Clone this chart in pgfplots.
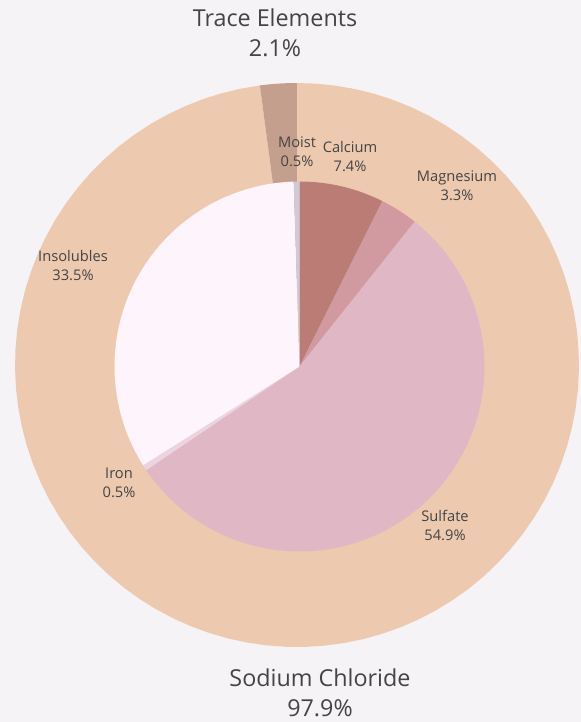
\documentclass[border=0pt]{standalone}
\usepackage{pgfplots}
\pgfplotsset{compat=1.18}
\usepackage{fontspec}
\setmainfont{Open Sans}
\definecolor{bgc}{HTML}{F5F3F6}
\definecolor{txt}{HTML}{444444}
\definecolor{cNa}{HTML}{EDC9B0}
\definecolor{cTr}{HTML}{C49F8E}
\definecolor{cCa}{HTML}{BB7C76}
\definecolor{cMg}{HTML}{D09AA0}
\definecolor{cSu}{HTML}{E0B7C4}
\definecolor{cFe}{HTML}{EBD3E0}
\definecolor{cIn}{HTML}{FEF4FC}
\definecolor{cMo}{HTML}{CFC9D8}
% slice: radius, value, total, colour  (clockwise from the running angle \cur), centre \cx,\cy
\newcommand{\slice}[4]{%
  \pgfmathsetmacro{\sa}{\cur}%
  \pgfmathsetmacro{\sb}{\cur-#2/#3*360}%
  \edef\temp{\noexpand\addplot[fill=#4,draw=none,domain=\sb:\sa,samples=90,variable=\noexpand\t]
    ({\cx+#1*cos(\noexpand\t)},{\cy+#1*sin(\noexpand\t)}) -- (axis cs:\cx,\cy) -- cycle;}%
  \temp
  \xdef\cur{\sb}}
\def\cur{90}
\begin{document}
\begin{tikzpicture}
\begin{axis}[
  scale only axis, width=435.75pt, height=541.5pt,
  xmin=0, xmax=581, ymin=0, ymax=722,
  hide axis, clip=false,
]
\fill[bgc] (axis cs:0,0) rectangle (axis cs:581,722);
% outer ring: Sodium Chloride 97.9, Trace Elements 2.1
\gdef\cur{90}\gdef\cx{297}\gdef\cy{357}
\slice{282}{97.9}{100}{cNa}
\slice{282}{2.1}{100}{cTr}
% inner pie
\gdef\cur{90}\gdef\cx{299.5}\gdef\cy{355.5}
\slice{185}{7.4}{100.1}{cCa}
\slice{185}{3.3}{100.1}{cMg}
\slice{185}{54.9}{100.1}{cSu}
\slice{185}{0.5}{100.1}{cFe}
\slice{185}{33.5}{100.1}{cIn}
\slice{185}{0.5}{100.1}{cMo}
% labels
\tikzset{lab/.style={text=txt, align=center, font=\fontsize{11}{14.25}\selectfont, inner sep=0pt},
         big/.style={text=txt, align=center, font=\fontsize{17.5}{22.5}\selectfont, inner sep=0pt}}
\node[big] at (axis cs:275,689) {Trace Elements\\2.1\%};
\node[big] at (axis cs:320,29) {Sodium Chloride\\97.9\%};
\node[lab] at (axis cs:297,570) {Moist\\0.5\%};
\node[lab] at (axis cs:350,565) {Calcium\\7.4\%};
\node[lab] at (axis cs:457,536) {Magnesium\\3.3\%};
\node[lab] at (axis cs:73,456) {Insolubles\\33.5\%};
\node[lab] at (axis cs:119,239) {Iron\\0.5\%};
\node[lab] at (axis cs:445,197) {Sulfate\\54.9\%};
\end{axis}
\end{tikzpicture}
\end{document}
